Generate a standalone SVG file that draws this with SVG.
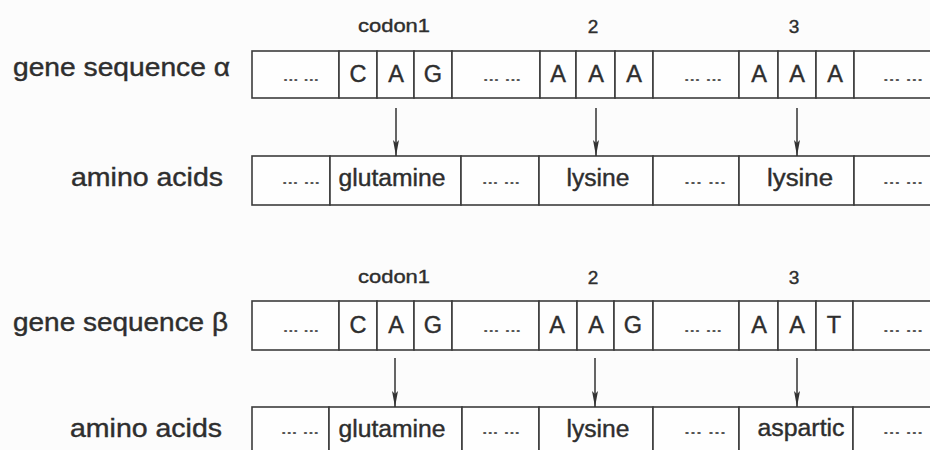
<svg xmlns="http://www.w3.org/2000/svg" width="930" height="450" viewBox="0 0 930 450">
<style>
  .bg{fill:#fcfcfc}
  .cell{fill:#fefefe;stroke:#3c3c3c;stroke-width:1.6}
  text{font-family:"Liberation Sans",Arial,sans-serif;fill:#2e2e2e;stroke:#2e2e2e;stroke-width:0.4}
  .lab{font-size:25px}
  .num{font-size:19px;text-anchor:middle}
  .nt{font-size:23.5px;text-anchor:middle}
  .aa{font-size:23px;text-anchor:middle}
  .dots{font-size:13px;text-anchor:middle;font-weight:bold;fill:#555;stroke:none}
  .arr{stroke:#333;stroke-width:1.5;fill:none;marker-end:url(#ah)}
</style>
<defs>
  <marker id="ah" viewBox="0 0 16 8" refX="16" refY="4" markerWidth="16" markerHeight="8" markerUnits="userSpaceOnUse" orient="auto">
    <path d="M0,1 L16,4 L0,7 L3,4 Z" fill="#333"/>
  </marker>
</defs>
<rect class="bg" x="0" y="0" width="930" height="450"/>

<!-- ===== Section alpha ===== -->
<g id="labels-alpha">
  <text class="lab" x="13" y="76" textLength="217" lengthAdjust="spacingAndGlyphs">gene sequence α</text>
  <text class="lab" x="71" y="186" textLength="152" lengthAdjust="spacingAndGlyphs">amino acids</text>
  <text class="num" x="394" y="32" textLength="72" lengthAdjust="spacingAndGlyphs">codon1</text>
  <text class="num" x="593" y="33">2</text>
  <text class="num" x="794" y="33">3</text>
</g>

<g id="gene-alpha">
  <g id="ga-d1"><rect class="cell" x="252" y="51" width="87" height="47"/><text class="dots" x="301" y="81" textLength="36" lengthAdjust="spacingAndGlyphs">... ...</text></g>
  <g id="ga-c1"><rect class="cell" x="339" y="51" width="38" height="47"/><text class="nt" x="358" y="82">C</text></g>
  <g id="ga-c2"><rect class="cell" x="377" y="51" width="37" height="47"/><text class="nt" x="396" y="82">A</text></g>
  <g id="ga-c3"><rect class="cell" x="414" y="51" width="38" height="47"/><text class="nt" x="433" y="82">G</text></g>
  <g id="ga-d2"><rect class="cell" x="452" y="51" width="88" height="47"/><text class="dots" x="502" y="81" textLength="38" lengthAdjust="spacingAndGlyphs">... ...</text></g>
  <g id="ga-c4"><rect class="cell" x="540" y="51" width="36" height="47"/><text class="nt" x="558" y="82">A</text></g>
  <g id="ga-c5"><rect class="cell" x="576" y="51" width="39" height="47"/><text class="nt" x="596" y="82">A</text></g>
  <g id="ga-c6"><rect class="cell" x="615" y="51" width="38" height="47"/><text class="nt" x="634" y="82">A</text></g>
  <g id="ga-d3"><rect class="cell" x="653" y="51" width="86" height="47"/><text class="dots" x="703" y="81" textLength="38" lengthAdjust="spacingAndGlyphs">... ...</text></g>
  <g id="ga-c7"><rect class="cell" x="739" y="51" width="39" height="47"/><text class="nt" x="759" y="82">A</text></g>
  <g id="ga-c8"><rect class="cell" x="778" y="51" width="38" height="47"/><text class="nt" x="797" y="82">A</text></g>
  <g id="ga-c9"><rect class="cell" x="816" y="51" width="38" height="47"/><text class="nt" x="835" y="82">A</text></g>
  <g id="ga-d4"><rect class="cell" x="854" y="51" width="90" height="47"/><text class="dots" x="903" y="81" textLength="40" lengthAdjust="spacingAndGlyphs">... ...</text></g>
</g>

<g id="amino-alpha">
  <g id="aa-d1"><rect class="cell" x="252" y="156" width="78" height="49"/><text class="dots" x="301" y="184" textLength="38" lengthAdjust="spacingAndGlyphs">... ...</text></g>
  <g id="aa-glu"><rect class="cell" x="330" y="156" width="131" height="49"/><text class="aa" x="392" y="186" textLength="107" lengthAdjust="spacingAndGlyphs">glutamine</text></g>
  <g id="aa-d2"><rect class="cell" x="461" y="156" width="78" height="49"/><text class="dots" x="501" y="184" textLength="38" lengthAdjust="spacingAndGlyphs">... ...</text></g>
  <g id="aa-lys1"><rect class="cell" x="539" y="156" width="114" height="49"/><text class="aa" x="598" y="186" textLength="63" lengthAdjust="spacingAndGlyphs">lysine</text></g>
  <g id="aa-d3"><rect class="cell" x="653" y="156" width="86" height="49"/><text class="dots" x="705" y="184" textLength="42" lengthAdjust="spacingAndGlyphs">... ...</text></g>
  <g id="aa-lys2"><rect class="cell" x="739" y="156" width="115" height="49"/><text class="aa" x="800" y="186" textLength="66" lengthAdjust="spacingAndGlyphs">lysine</text></g>
  <g id="aa-d4"><rect class="cell" x="854" y="156" width="90" height="49"/><text class="dots" x="903" y="184" textLength="40" lengthAdjust="spacingAndGlyphs">... ...</text></g>
</g>

<!-- ===== Section beta ===== -->
<g id="labels-beta">
  <text class="lab" x="13" y="331" textLength="215" lengthAdjust="spacingAndGlyphs">gene sequence β</text>
  <text class="lab" x="70" y="437" textLength="152" lengthAdjust="spacingAndGlyphs">amino acids</text>
  <text class="num" x="394" y="283" textLength="72" lengthAdjust="spacingAndGlyphs">codon1</text>
  <text class="num" x="593" y="284">2</text>
  <text class="num" x="794" y="284">3</text>
</g>

<g id="gene-beta">
  <g id="gb-d1"><rect class="cell" x="252" y="301" width="87" height="49"/><text class="dots" x="301" y="332" textLength="36" lengthAdjust="spacingAndGlyphs">... ...</text></g>
  <g id="gb-c1"><rect class="cell" x="339" y="301" width="38" height="49"/><text class="nt" x="358" y="333">C</text></g>
  <g id="gb-c2"><rect class="cell" x="377" y="301" width="37" height="49"/><text class="nt" x="396" y="333">A</text></g>
  <g id="gb-c3"><rect class="cell" x="414" y="301" width="38" height="49"/><text class="nt" x="433" y="333">G</text></g>
  <g id="gb-d2"><rect class="cell" x="452" y="301" width="87" height="49"/><text class="dots" x="502" y="332" textLength="38" lengthAdjust="spacingAndGlyphs">... ...</text></g>
  <g id="gb-c4"><rect class="cell" x="539" y="301" width="38" height="49"/><text class="nt" x="557" y="333">A</text></g>
  <g id="gb-c5"><rect class="cell" x="577" y="301" width="37" height="49"/><text class="nt" x="596" y="333">A</text></g>
  <g id="gb-c6"><rect class="cell" x="614" y="301" width="39" height="49"/><text class="nt" x="633" y="333">G</text></g>
  <g id="gb-d3"><rect class="cell" x="653" y="301" width="86" height="49"/><text class="dots" x="703" y="332" textLength="38" lengthAdjust="spacingAndGlyphs">... ...</text></g>
  <g id="gb-c7"><rect class="cell" x="739" y="301" width="39" height="49"/><text class="nt" x="759" y="333">A</text></g>
  <g id="gb-c8"><rect class="cell" x="778" y="301" width="38" height="49"/><text class="nt" x="797" y="333">A</text></g>
  <g id="gb-c9"><rect class="cell" x="816" y="301" width="37" height="49"/><text class="nt" x="834" y="333">T</text></g>
  <g id="gb-d4"><rect class="cell" x="853" y="301" width="90" height="49"/><text class="dots" x="903" y="332" textLength="40" lengthAdjust="spacingAndGlyphs">... ...</text></g>
</g>

<g id="amino-beta">
  <g id="ab-d1"><rect class="cell" x="252" y="407" width="77" height="52"/><text class="dots" x="300" y="434" textLength="38" lengthAdjust="spacingAndGlyphs">... ...</text></g>
  <g id="ab-glu"><rect class="cell" x="329" y="407" width="133" height="52"/><text class="aa" x="392" y="437" textLength="107" lengthAdjust="spacingAndGlyphs">glutamine</text></g>
  <g id="ab-d2"><rect class="cell" x="462" y="407" width="77" height="52"/><text class="dots" x="501" y="434" textLength="38" lengthAdjust="spacingAndGlyphs">... ...</text></g>
  <g id="ab-lys"><rect class="cell" x="539" y="407" width="114" height="52"/><text class="aa" x="598" y="437" textLength="63" lengthAdjust="spacingAndGlyphs">lysine</text></g>
  <g id="ab-d3"><rect class="cell" x="653" y="407" width="86" height="52"/><text class="dots" x="705" y="434" textLength="42" lengthAdjust="spacingAndGlyphs">... ...</text></g>
  <g id="ab-asp"><rect class="cell" x="739" y="407" width="114" height="52"/><text class="aa" x="801" y="436" textLength="87" lengthAdjust="spacingAndGlyphs">aspartic</text></g>
  <g id="ab-d4"><rect class="cell" x="853" y="407" width="90" height="52"/><text class="dots" x="903" y="434" textLength="40" lengthAdjust="spacingAndGlyphs">... ...</text></g>
</g>

<g id="connectors">
  <line class="arr" x1="396" y1="108" x2="396" y2="156"/>
  <line class="arr" x1="596" y1="108" x2="596" y2="156"/>
  <line class="arr" x1="797" y1="108" x2="797" y2="156"/>
  <line class="arr" x1="395" y1="358" x2="395" y2="407"/>
  <line class="arr" x1="595" y1="358" x2="595" y2="407"/>
  <line class="arr" x1="797" y1="358" x2="797" y2="407"/>
</g>
</svg>
